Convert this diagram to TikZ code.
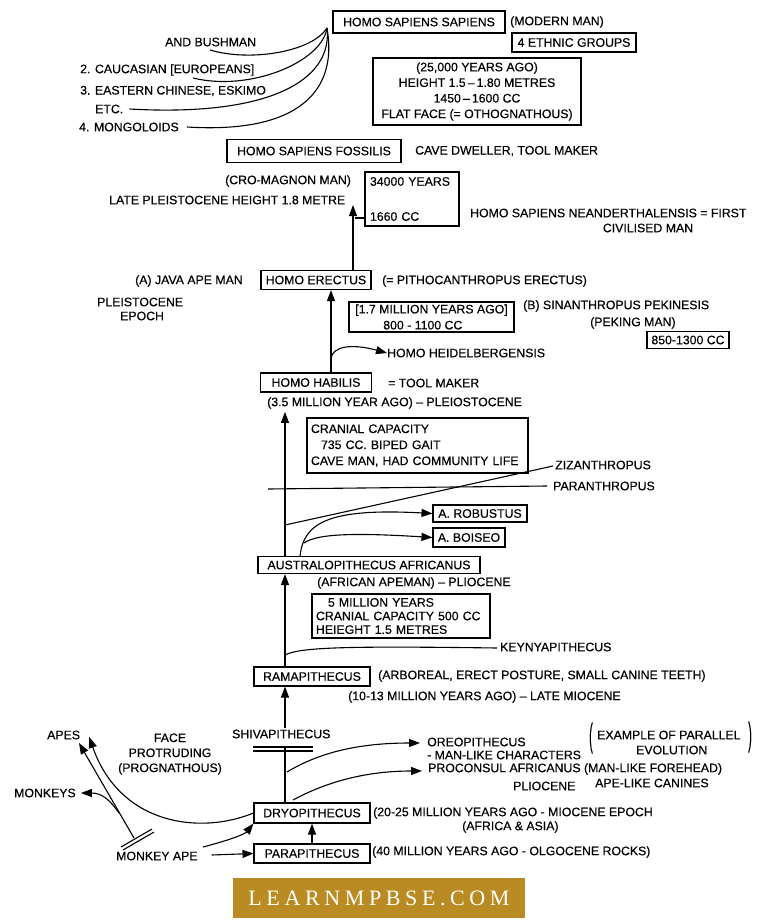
\documentclass[tikz,border=0pt]{standalone}
\usepackage{graphicx}
\usepackage{fontspec}
\setmainfont{Liberation Sans}[FakeBold=0.35]
\newfontfamily\footfont[LetterSpace=21]{Liberation Serif}
\usetikzlibrary{arrows.meta,calc}
\definecolor{footgold}{RGB}{186,139,34}
\begin{document}
\begin{tikzpicture}[x=1pt,y=-1pt,
  every node/.style={font=\fontsize{12.3}{15}\selectfont, inner sep=0pt},
  lbl/.style={anchor=west},
  box/.style={draw, line width=1.1pt, inner sep=0pt},
  ln/.style={line width=1.1pt},
  arr/.style={line width=1.1pt, -{Triangle[length=11pt,width=8pt]}},
]
\useasboundingbox[fill=white] (0,0) rectangle (767,923);

% ---------- top : modern man ----------
\node[box, minimum width=172, minimum height=22] (hss) at (419,22) {HOMO SAPIENS SAPIENS};
\node[lbl] (modern) at (510,22) {(MODERN MAN)};
\node[box, minimum width=124, minimum height=19] (ethnic) at (574,42.5) {4 ETHNIC GROUPS};
\node[box, minimum width=208, minimum height=67, align=center, font=\fontsize{12.3}{15.6}\selectfont] (agebox) at (477,91.5)
  {(25,000 YEARS AGO)\\HEIGHT 1.5\,\textendash\,1.80 METRES\\1450\,\textendash\,1600 CC\\FLAT FACE (= OTHOGNATHOUS)};

\node[lbl] (bush) at (165,42) {AND BUSHMAN};
\node[lbl] (cauc) at (80,70) {2. CAUCASIAN [EUROPEANS]};
\node[lbl] (east) at (80,91) {3. EASTERN CHINESE, ESKIMO};
\node[lbl] (etc) at (95,109) {ETC.};
\node[lbl] (mong) at (79,127) {4. MONGOLOIDS};
\coordinate (conv) at (327,28);
\coordinate (bushS) at (210,50);
\coordinate (caucS) at (193,78);
\draw[ln] (bushS) .. controls (250,62) and (312,52) .. (conv);
\draw[ln] (caucS) .. controls (250,92) and (322,62) .. (conv);
\draw[ln] ($(etc.east)+(6,0)$) .. controls (270,117) and (333,80) .. (conv);
\draw[ln] ($(mong.east)+(8,0)$) .. controls (300,134) and (338,90) .. (conv);

% ---------- homo sapiens fossilis ----------
\node[box, minimum width=174, minimum height=23] (hsf) at (314,151) {HOMO SAPIENS FOSSILIS};
\node[lbl] (cave) at (415,151) {CAVE DWELLER, TOOL MAKER};
\node[lbl] (cro) at (225,181) {(CRO-MAGNON MAN)};
\node[lbl] (late) at (109,200) {LATE PLEISTOCENE HEIGHT 1.8 METRE};
\node[box, minimum width=94, minimum height=54, align=left, text width=84] (yrs) at (412,199)
  {34000 YEARS\\[20pt]1660 CC};
\coordinate (tickA) at (355,218);
\draw[ln] (tickA) -- (yrs.west |- tickA);
\node[lbl] (nean) at (470,213) {HOMO SAPIENS NEANDERTHALENSIS = FIRST};
\node (civ) at (648,228) {CIVILISED MAN};

% ---------- homo erectus ----------
\node[lbl] (java) at (135,281) {(A) JAVA APE MAN};
\node[box, minimum width=110, minimum height=19] (erectus) at (316,280) {HOMO ERECTUS};
\node[lbl] (pitho) at (382,281) {(= PITHOCANTHROPUS ERECTUS)};
\node[lbl] (pleis) at (97,302) {PLEISTOCENE};
\node[lbl] (epoch) at (120,316) {EPOCH};
\node[box, minimum width=165, minimum height=30, align=left, font=\fontsize{12.3}{16}\selectfont] (mya) at (431.5,317)
  {[1.7 MILLION YEARS AGO]\\\hspace*{28pt}800 - 1100 CC};
\node[lbl] (sinan) at (523,306) {(B) SINANTHROPUS PEKINESIS};
\node[lbl] (peking) at (590,323) {(PEKING MAN)};
\node[box, minimum width=82, minimum height=17] (cc) at (688,340) {850-1300 CC};
\node[lbl] (heidel) at (387,353) {HOMO HEIDELBERGENSIS};

\coordinate (ax3) at (353,0);
\coordinate (cmTip) at (353,205);
\draw[arr] (erectus.north -| ax3) -- (cmTip);

% ---------- homo habilis ----------
\node[box, minimum width=111, minimum height=19] (habilis) at (316,382.5) {HOMO HABILIS};
\node[lbl] (tool) at (388,383) {= TOOL MAKER};
\node[lbl] (mya35) at (267,403) {(3.5 MILLION YEAR AGO) \textendash\ PLEIOSTOCENE};
\coordinate (ax2) at (331,0);
\draw[arr] (habilis.north -| ax2) -- (erectus.south -| ax2);
\coordinate (heidS) at (331,358);
\draw[arr] (heidS) .. controls (333,347) and (350,343) .. (heidel.west);

\node[box, minimum width=221, minimum height=55, align=left, text width=213, font=\fontsize{12.3}{16}\selectfont] (cran) at (417.5,445.5)
  {CRANIAL CAPACITY\\\hspace*{10pt}735 CC. BIPED GAIT\\CAVE MAN, HAD COMMUNITY LIFE};

% ---------- australopithecus ----------
\node[lbl] (ziz) at (555,465) {ZIZANTHROPUS};
\node[lbl] (para) at (553,486) {PARANTHROPUS};
\node[box, minimum width=94, minimum height=17] (robust) at (480,513.5) {A. ROBUSTUS};
\node[box, minimum width=72, minimum height=19] (boiseo) at (469,537.5) {A. BOISEO};
\node[box, minimum width=222, minimum height=17] (austr) at (369,565) {AUSTRALOPITHECUS AFRICANUS};
\node[lbl] (afr) at (317,583) {(AFRICAN APEMAN) \textendash\ PLIOCENE};
\node[box, minimum width=178, minimum height=44, align=left, text width=170, font=\fontsize{12.3}{13.6}\selectfont] (five) at (401,616)
  {\hspace*{12pt}5 MILLION YEARS\\CRANIAL CAPACITY 500 CC\\HEIEGHT 1.5 METRES};

\coordinate (ax) at (285,0);
\draw[arr] (austr.north -| ax) -- ($(mya35.south -| ax)+(0,3)$);
\coordinate (paraL) at (268,489);
\draw[ln] (paraL) -- ($(para.west)+(-6,0)$);
\coordinate (zizS) at (285,525);
\draw[ln] (zizS) -- ($(ziz.west)+(-2,1)$);
\coordinate (robS) at (300,557);
\draw[arr] (robS) .. controls (303,522) and (330,508) .. (robust.west);
\coordinate (boiS) at (304,543);
\draw[arr] (boiS) .. controls (318,533) and (360,533) .. (boiseo.west);

% ---------- ramapithecus ----------
\node[lbl] (keny) at (500,647) {KEYNYAPITHECUS};
\node[box, minimum width=116, minimum height=19] (rama) at (312,676.5) {RAMAPITHECUS};
\node[lbl] (arb) at (378,676) {(ARBOREAL, ERECT POSTURE, SMALL CANINE TEETH)};
\node[lbl] (mioc) at (348,697) {(10-13 MILLION YEARS AGO) \textendash\ LATE MIOCENE};
\draw[arr] (rama.north -| ax) -- (austr.south -| ax);
\coordinate (kenS) at (285,655);
\draw[ln] (kenS) .. controls (300,647) and (350,646) .. ($(keny.west)+(-3,1)$);

% ---------- shivapithecus / dryopithecus ----------
\node[lbl] (shiva) at (232,734) {SHIVAPITHECUS};
\coordinate (barA1) at (253,747);
\coordinate (barA2) at (313,747);
\coordinate (barB1) at (253,751);
\coordinate (barB2) at (313,751);
\draw[ln] (barA1) -- (barA2);
\draw[ln] (barB1) -- (barB2);
\draw[arr] ($(shiva.north -| ax)+(0,-1)$) -- (rama.south -| ax);

\node[lbl] (oreo) at (427,742) {OREOPITHECUS};
\node[lbl] (manlike) at (427,755) {- MAN-LIKE CHARACTERS};
\node[lbl] (procon) at (428,769) {PROCONSUL AFRICANUS (MAN-LIKE FOREHEAD)};
\node[lbl] (plio) at (513,786) {PLIOCENE};
\node[lbl] (apelike) at (595,783) {APE-LIKE CANINES};
\node[lbl] (example) at (597,735) {EXAMPLE OF PARALLEL};
\node[lbl] (evol) at (636,750) {EVOLUTION};
\node (lpar) at (591,738) {\scalebox{0.9}[2.7]{(}};
\node (rpar) at (750,737) {\scalebox{0.9}[2.7]{)}};

\node[box, minimum width=116, minimum height=20] (dryo) at (312,813) {DRYOPITHECUS};
\node[lbl] (mio) at (373,813) {(20-25 MILLION YEARS AGO - MIOCENE EPOCH};
\node[lbl] (afas) at (462,827) {(AFRICA \& ASIA)};
\node[box, minimum width=116, minimum height=19] (parap) at (312,853.5) {PARAPITHECUS};
\node[lbl] (olig) at (372,852) {(40 MILLION YEARS AGO - OLGOCENE ROCKS)};

\draw[ln] (dryo.north -| ax) -- (barA1 -| ax);
\coordinate (oreS) at (287,772);
\draw[arr] (oreS) .. controls (320,752) and (360,743) .. ($(oreo.west)+(-7,1)$);
\coordinate (proS) at (293,800);
\draw[arr] (proS) .. controls (330,780) and (370,771) .. ($(procon.west)+(-6,2)$);
\draw[arr] (parap.north) -- (dryo.south);

% ---------- monkey ape ----------
\node[lbl] (monkeyape) at (116,856) {MONKEY APE};
\node[lbl] (apes) at (47,735) {APES};
\node[lbl] (monkeys) at (14,793) {MONKEYS};
\node[align=center, font=\fontsize{12.3}{15}\selectfont] (face) at (170,754) {FACE\\PROTRUDING\\(PROGNATHOUS)};

\draw[arr] ($(monkeyape.east)+(14,-1)$) -- (parap.west);
\coordinate (maS) at (203,847);
\draw[arr] (maS) .. controls (230,840) and (245,834) .. (dryo.south west);
\coordinate (apeS) at (134,838);
\coordinate (apesTip) at (79,743);
\draw[arr] (apeS) -- (apesTip);
\coordinate (mbarA1) at (121,847);
\coordinate (mbarA2) at (152,829);
\coordinate (mbarB1) at (123,850);
\coordinate (mbarB2) at (154,832);
\draw[ln] (mbarA1) -- (mbarA2);
\draw[ln] (mbarB1) -- (mbarB2);
\coordinate (monS) at (119,813);
\draw[arr] (monS) .. controls (110,800) and (102,793) .. ($(monkeys.east)+(5,0)$);
\draw[arr] (dryo.west) .. controls (200,835) and (120,825) .. ($(apes.east)+(9,2)$);

% ---------- footer ----------
\node[fill=footgold, minimum width=292, minimum height=40, text=white, font=\footfont\fontsize{22}{24}\selectfont] (foot) at (379,898) {LEARNMPBSE.COM};
\end{tikzpicture}
\end{document}
